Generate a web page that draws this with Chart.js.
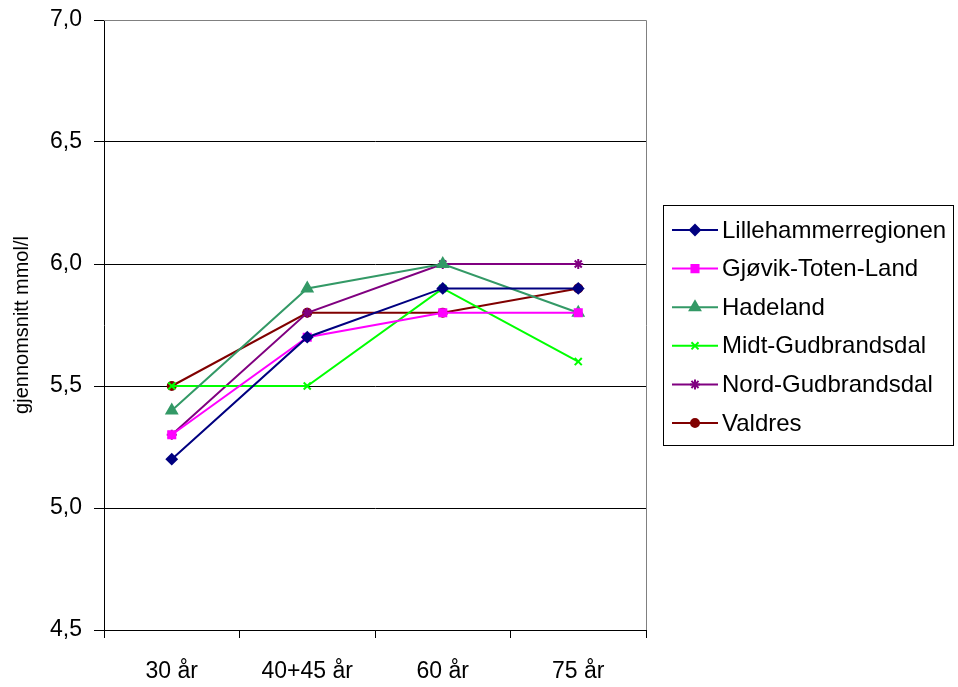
<!DOCTYPE html>
<html>
<head>
<meta charset="utf-8">
<script src="https://cdn.jsdelivr.net/npm/chart.js@4/dist/chart.umd.min.js"></script>
<style>
  html, body { margin: 0; padding: 0; background: #fff; }
  #wrap { width: 958px; height: 687px; }
</style>
</head>
<body>
<div id="wrap"><canvas id="chart"></canvas></div>
<script>
const categories = ['30 år', '40+45 år', '60 år', '75 år'];
const yTickLabels = ['4,5', '5,0', '5,5', '6,0', '6,5', '7,0'];

const lillehammer = [5.2, 5.7, 5.9, 5.9];
const gjovik      = [5.3, 5.7, 5.8, 5.8];
const hadeland    = [5.4, 5.9, 6.0, 5.8];
const midtGudbr   = [5.5, 5.5, 5.9, 5.6];
const nordGudbr   = [5.3, 5.8, 6.0, 6.0];
const valdres     = [5.5, 5.8, 5.8, 5.9];

const FONT = '"Liberation Sans", Arial, sans-serif';

function series(label, data, color, style, radius) {
  return {
    label, data,
    borderColor: color,
    backgroundColor: color,
    borderWidth: 2,
    pointStyle: style,
    pointRadius: radius,
    pointBorderWidth: 2,
    pointHoverRadius: radius,
    tension: 0
  };
}

// legend drawn by hand to get the boxed look with line + marker
const boxLegend = {
  id: 'boxLegend',
  afterDraw(chart) {
    const ctx = chart.ctx;
    ctx.save();
    ctx.strokeStyle = '#000';
    ctx.lineWidth = 1;
    ctx.strokeRect(663.5, 205.5, 290, 240);
    ctx.font = '24px ' + FONT;
    ctx.textBaseline = 'middle';
    ctx.fillStyle = '#000';
    chart.data.datasets.forEach((ds, i) => {
      const y = 230 + i * 38.6;
      ctx.strokeStyle = ds.borderColor;
      ctx.lineWidth = 2;
      ctx.beginPath();
      ctx.moveTo(672, y);
      ctx.lineTo(718, y);
      ctx.stroke();
      Chart.helpers.drawPoint(ctx, {
        pointStyle: ds.pointStyle, radius: ds.pointRadius, borderWidth: 2
      }, 695, y);
      ctx.fillStyle = ds.backgroundColor;
      ctx.fill();
      ctx.fillStyle = '#000';
      ctx.fillText(ds.label, 722, y + 1);
    });
    ctx.restore();
  }
};

// grey frame on top and right of the plot area
const plotFrame = {
  id: 'plotFrame',
  beforeDatasetsDraw(chart) {
    const { ctx, chartArea: a } = chart;
    ctx.save();
    ctx.strokeStyle = '#808080';
    ctx.lineWidth = 1;
    ctx.beginPath();
    ctx.moveTo(a.left, a.top + 0.5);
    ctx.lineTo(a.right + 0.5, a.top + 0.5);
    ctx.lineTo(a.right + 0.5, a.bottom);
    ctx.stroke();
    ctx.restore();
  }
};

new Chart(document.getElementById('chart'), {
  type: 'line',
  data: {
    labels: categories,
    datasets: [
      series('Lillehammerregionen', lillehammer, '#000080', 'rectRot', 5),
      series('Gjøvik-Toten-Land', gjovik, '#ff00ff', 'rect', 5),
      series('Hadeland', hadeland, '#339966', 'triangle', 6),
      series('Midt-Gudbrandsdal', midtGudbr, '#00ff00', 'crossRot', 5),
      series('Nord-Gudbrandsdal', nordGudbr, '#800080', 'star', 5),
      series('Valdres', valdres, '#800000', 'circle', 4)
    ]
  },
  options: {
    responsive: true,
    maintainAspectRatio: false,
    animation: false,
    layout: { padding: { left: 0, right: 312, top: 20, bottom: 0 } },
    plugins: {
      legend: { display: false },
      tooltip: { enabled: false }
    },
    scales: {
      x: {
        offset: true,
        grid: {
          offset: true,
          drawOnChartArea: false,
          drawTicks: true,
          tickLength: 8,
          color: '#000'
        },
        border: { color: '#000', width: 1 },
        ticks: {
          color: '#000',
          padding: 20,
          maxRotation: 0,
          font: { family: FONT, size: 23 }
        },
        afterFit(s) { s.height = 57; }
      },
      y: {
        min: 4.5,
        max: 7.0,
        ticks: {
          stepSize: 0.5,
          color: '#000',
          padding: 12,
          font: { family: FONT, size: 23, lineHeight: 0.6 },
          callback: (v, i) => yTickLabels[i]
        },
        grid: {
          tickLength: 10,
          color: ctx => (ctx.tick && ctx.tick.value === 7 ? '#808080' : '#000'),
          tickColor: '#000'
        },
        border: { color: '#000', width: 1 },
        title: {
          display: true,
          text: 'gjennomsnitt mmol/l',
          color: '#000',
          padding: { top: 10, bottom: 4 },
          font: { family: FONT, size: 20 }
        },
        afterFit(s) { s.width = 104; }
      }
    }
  },
  plugins: [plotFrame, boxLegend]
});
</script>
</body>
</html>
